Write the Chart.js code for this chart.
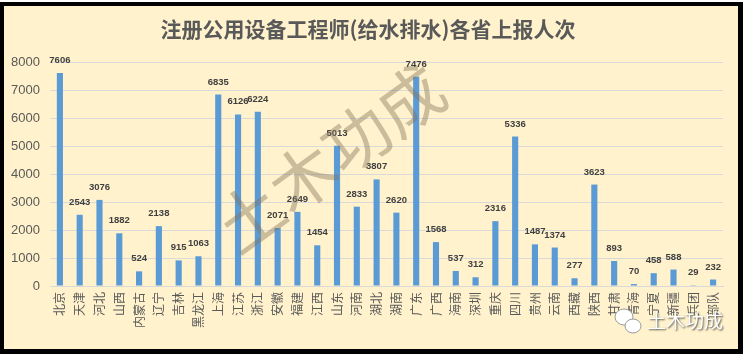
<!DOCTYPE html>
<html><head><meta charset="utf-8">
<script src="https://cdn.jsdelivr.net/npm/chart.js@4/dist/chart.umd.min.js"></script>
<style>
html,body{margin:0;padding:0;background:#fff;}
#frame{position:absolute;left:0;top:2px;width:743px;height:352px;background:#000;}
#wrap{position:absolute;left:4px;top:6px;width:734px;height:343px;background:#FFF2CC;}
canvas{display:block;}
</style></head>
<body>
<div id="frame"></div>
<div id="wrap"><canvas id="c" width="734" height="343"></canvas></div>
<script>
const title = "注册公用设备工程师(给水排水)各省上报人次";
const categories = ["北京","天津","河北","山西","内蒙古","辽宁","吉林","黑龙江","上海","江苏","浙江","安徽","福建","江西","山东","河南","湖北","湖南","广东","广西","海南","深圳","重庆","四川","贵州","云南","西藏","陕西","甘肃","青海","宁夏","新疆","兵团","部队"];
const values = [7606,2543,3076,1882,524,2138,915,1063,6835,6126,6224,2071,2649,1454,5013,2833,3807,2620,7476,1568,537,312,2316,5336,1487,1374,277,3623,893,70,458,588,29,232];
const yTicks = [0,1000,2000,3000,4000,5000,6000,7000,8000];
const watermark = "土木功成";

const decor = {
  id: 'decor',
  afterDatasetsDraw(chart) {
    const ctx = chart.ctx;
    const meta = chart.getDatasetMeta(0);
    // data labels
    ctx.save();
    ctx.font = 'bold 9.5px "Liberation Sans Narrow", "Liberation Sans", Arial, sans-serif';
    ctx.fillStyle = '#404040';
    ctx.textAlign = 'center';
    ctx.textBaseline = 'alphabetic';
    meta.data.forEach((bar, i) => {
      ctx.fillText(String(values[i]), bar.x, bar.y - 10);
    });
    ctx.restore();
    // title
    ctx.save();
    ctx.font = 'bold 21px "Noto Sans CJK SC", sans-serif';
    ctx.fillStyle = '#595959';
    ctx.textAlign = 'center';
    ctx.textBaseline = 'middle';
    ctx.fillText(title, 364, 23);
    ctx.restore();
    // big diagonal watermark
    ctx.save();
    ctx.translate(326, 152);
    ctx.rotate(-36 * Math.PI / 180);
    ctx.font = '66px "Noto Sans CJK SC", sans-serif';
    ctx.fillStyle = 'rgba(130,115,90,0.42)';
    ctx.textAlign = 'center';
    ctx.textBaseline = 'middle';
    ctx.fillText(watermark, 0, 0);
    ctx.restore();
    // bottom-right watermark
    ctx.save();
    ctx.fillStyle = '#ffffff';
    ctx.strokeStyle = '#9a9a9a';
    ctx.lineWidth = 1;
    ctx.beginPath(); ctx.ellipse(620, 311, 9, 8, 0, 0, Math.PI * 2); ctx.fill(); ctx.stroke();
    ctx.beginPath(); ctx.ellipse(629, 320, 8, 7, 0, 0, Math.PI * 2); ctx.fill(); ctx.stroke();
    ctx.font = '19px "Noto Sans CJK SC", sans-serif';
    ctx.textAlign = 'left';
    ctx.textBaseline = 'middle';
    ctx.shadowColor = 'rgba(0,0,0,0.7)';
    ctx.shadowBlur = 2;
    ctx.shadowOffsetX = 1;
    ctx.shadowOffsetY = 1;
    ctx.fillStyle = '#ffffff';
    ctx.fillText(watermark, 643, 315);
    ctx.restore();
  }
};

new Chart(document.getElementById('c'), {
  type: 'bar',
  data: {
    labels: categories,
    datasets: [{
      data: values,
      backgroundColor: '#5B9BD5',
      barPercentage: 0.31,
      categoryPercentage: 1.0
    }]
  },
  options: {
    responsive: false,
    animation: false,
    layout: { padding: { top: 56, right: 15, bottom: 0, left: 0 } },
    plugins: { legend: { display: false }, title: { display: false }, tooltip: { enabled: false } },
    scales: {
      x: {
        grid: { display: false, drawTicks: false },
        border: { display: true, color: '#D9D9D9', width: 1 },
        ticks: {
          color: '#595959',
          font: { family: '"Noto Sans CJK SC", sans-serif', size: 12 },
          maxRotation: 90, minRotation: 90, autoSkip: false, padding: 6
        },
        afterFit(s) { s.height = 63; }
      },
      y: {
        min: 0, max: 8000,
        afterBuildTicks(s) { s.ticks = yTicks.map(v => ({ value: v })); },
        grid: { color: '#D9D9D9', drawTicks: false, lineWidth: 1 },
        border: { display: false },
        ticks: {
          color: '#595959',
          font: { family: '"Liberation Sans", Arial, sans-serif', size: 13 },
          padding: 10,
          callback: (v) => String(v)
        },
        afterFit(s) { s.width = 46; }
      }
    }
  },
  plugins: [decor]
});
</script>
</body></html>
